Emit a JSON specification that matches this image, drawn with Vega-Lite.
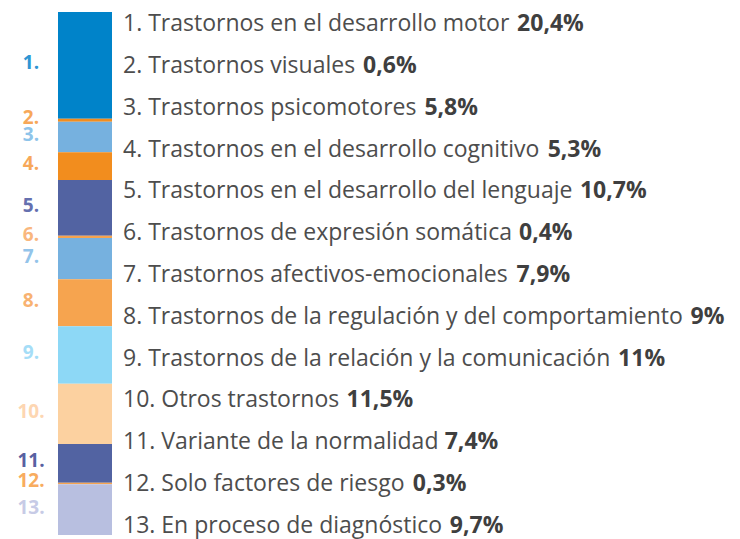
{
  "$schema": "https://vega.github.io/schema/vega-lite/v6.json",
  "width": 740,
  "height": 539,
  "autosize": {"type": "fit", "contains": "padding"},
  "padding": 0,
  "background": "white",
  "config": {"view": {"stroke": null}},
  "data": {
    "values": [
      {"n": 1, "label": "1. Trastornos en el desarrollo motor", "pct": 20.4, "pctText": "20,4%"},
      {"n": 2, "label": "2. Trastornos visuales", "pct": 0.6, "pctText": "0,6%"},
      {"n": 3, "label": "3. Trastornos psicomotores", "pct": 5.8, "pctText": "5,8%"},
      {"n": 4, "label": "4. Trastornos en el desarrollo cognitivo", "pct": 5.3, "pctText": "5,3%"},
      {"n": 5, "label": "5. Trastornos en el desarrollo del lenguaje", "pct": 10.7, "pctText": "10,7%"},
      {"n": 6, "label": "6. Trastornos de expresión somática", "pct": 0.4, "pctText": "0,4%"},
      {"n": 7, "label": "7. Trastornos afectivos-emocionales", "pct": 7.9, "pctText": "7,9%"},
      {"n": 8, "label": "8. Trastornos de la regulación y del comportamiento", "pct": 9, "pctText": "9%"},
      {"n": 9, "label": "9. Trastornos de la relación y la comunicación", "pct": 11, "pctText": "11%"},
      {"n": 10, "label": "10. Otros trastornos", "pct": 11.5, "pctText": "11,5%"},
      {"n": 11, "label": "11. Variante de la normalidad", "pct": 7.4, "pctText": "7,4%"},
      {"n": 12, "label": "12. Solo factores de riesgo", "pct": 0.3, "pctText": "0,3%"},
      {"n": 13, "label": "13. En proceso de diagnóstico", "pct": 9.7, "pctText": "9,7%"}
    ]
  },
  "resolve": {"scale": {"y": "independent", "color": "independent"}},
  "layer": [
    {
      "mark": {"type": "bar", "orient": "vertical"},
      "encoding": {
        "x": {"value": 58},
        "x2": {"value": 112},
        "y": {"field": "pct", "type": "quantitative", "stack": "zero",
              "scale": {"domain": [-2.2945, 100.765], "reverse": true, "nice": false, "zero": false}, "axis": null},
        "order": {"field": "n", "type": "quantitative", "sort": "ascending"},
        "color": {"field": "n", "type": "ordinal", "legend": null,
                  "scale": {"domain": [1,2,3,4,5,6,7,8,9,10,11,12,13],
                            "range": ["#0083c9", "#f28d1e", "#76b1df", "#f28d1e", "#5263a2", "#f6a44f", "#76b1df", "#f6a44f", "#8dd8f6", "#fcd1a0", "#5263a2", "#f6a44f", "#b8bfe0"]}}
      }
    },
    {
      "transform": [
        {"stack": "pct", "groupby": [], "sort": [{"field": "n", "order": "ascending"}], "as": ["s0", "s1"]},
        {"calculate": "(datum.s0 + datum.s1) / 2", "as": "mid"},
        {"calculate": "datum.n + '.'", "as": "num"}
      ],
      "mark": {"type": "text", "font": "Open Sans", "fontWeight": "bold", "fontSize": 19, "align": "center", "baseline": "middle", "dy": -2},
      "encoding": {
        "x": {"value": 31},
        "y": {"field": "mid", "type": "quantitative",
              "scale": {"domain": [-2.2945, 100.765], "reverse": true, "nice": false, "zero": false}, "axis": null},
        "text": {"field": "num"},
        "color": {"field": "n", "type": "ordinal", "legend": null,
                  "scale": {"domain": [1,2,3,4,5,6,7,8,9,10,11,12,13],
                            "range": ["#2e95d3", "#f7a859", "#8ec4ea", "#f7a859", "#6570af", "#f9b77e", "#93c4ea", "#f8b271", "#a5ddf7", "#fdd6b2", "#5861a2", "#f8ac5f", "#c7cbe6"]}}
      }
    },
    {
      "mark": {"type": "text", "font": "Open Sans", "fontSize": 23, "align": "left", "baseline": "alphabetic", "color": "#4d4d4d"},
      "encoding": {
        "x": {"value": 123},
        "y": {"field": "n", "type": "quantitative",
              "scale": {"domain": [0.25, 13.15], "reverse": true, "nice": false, "zero": false}, "axis": null},
        "text": {"field": "label"}
      }
    },
    {
      "transform": [
        {"calculate": "0.61*length(datum.label) - 0.354*(length(datum.label)-length(replace(datum.label, regexp('[ .,iíjl]','g'), ''))) - 0.264*(length(datum.label)-length(replace(datum.label, regexp('[ft-]','g'), ''))) - 0.202*(length(datum.label)-length(replace(datum.label, regexp('r','g'), ''))) - 0.133*(length(datum.label)-length(replace(datum.label, regexp('[csz]','g'), ''))) - 0.10*(length(datum.label)-length(replace(datum.label, regexp('[vykx]','g'), ''))) - 0.054*(length(datum.label)-length(replace(datum.label, regexp('[aáeégTESV]','g'), ''))) - 0.038*(length(datum.label)-length(replace(datum.label, regexp('[0-9]','g'), ''))) + 0.32*(length(datum.label)-length(replace(datum.label, regexp('m','g'), ''))) + 0.168*(length(datum.label)-length(replace(datum.label, regexp('[wO]','g'), '')))", "as": "wem"},
        {"calculate": "123 + (datum.wem + 0.34) * 23", "as": "px"}
      ],
      "mark": {"type": "text", "font": "Open Sans", "fontWeight": "bold", "fontSize": 23, "align": "left", "baseline": "alphabetic", "color": "#3f3f3f"},
      "encoding": {
        "x": {"field": "px", "type": "quantitative", "scale": {"domain": [0, 740], "nice": false, "zero": false}, "axis": null},
        "y": {"field": "n", "type": "quantitative",
              "scale": {"domain": [0.25, 13.15], "reverse": true, "nice": false, "zero": false}, "axis": null},
        "text": {"field": "pctText"}
      }
    }
  ]
}
